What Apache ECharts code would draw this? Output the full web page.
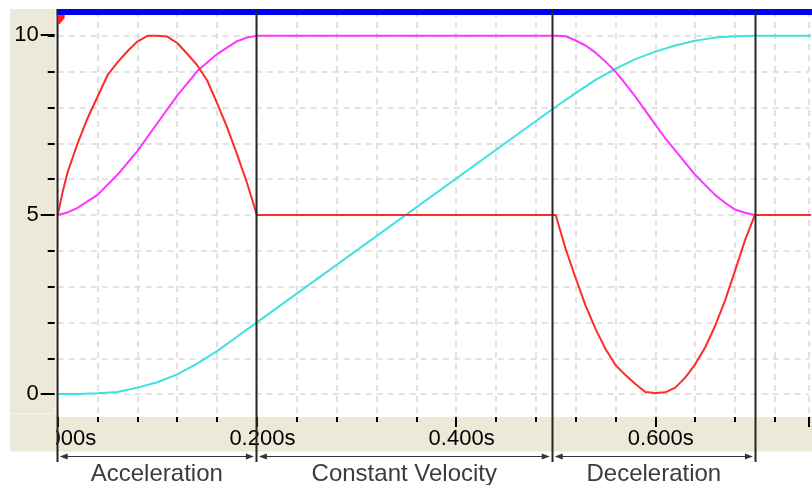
<!DOCTYPE html>
<html><head><meta charset="utf-8">
<script src="https://cdn.jsdelivr.net/npm/echarts@6/dist/echarts.min.js"></script>
<style>html,body{margin:0;padding:0;background:#fff}#c{width:812px;height:485px}</style>
</head><body><div id="c"></div>
<script>
// ---- data (seconds, units) ----
const accelT = [0, 0.005, 0.01, 0.02, 0.03, 0.04, 0.05, 0.06, 0.07, 0.08, 0.09, 0.10, 0.11, 0.12, 0.13, 0.14, 0.15, 0.16, 0.17, 0.18, 0.19, 0.20,
  0.50, 0.51, 0.52, 0.53, 0.54, 0.55, 0.56, 0.57, 0.58, 0.59, 0.60, 0.61, 0.62, 0.63, 0.64, 0.65, 0.66, 0.67, 0.68, 0.69, 0.70, 0.76];
const accelV = [5.0, 5.65, 6.2, 7.0, 7.7, 8.3, 8.9, 9.26, 9.57, 9.84, 10.0, 10.0, 9.98, 9.8, 9.5, 9.18, 8.76, 8.12, 7.45, 6.7, 5.9, 5.0,
  5.0, 4.05, 3.24, 2.47, 1.82, 1.26, 0.81, 0.53, 0.28, 0.06, 0.03, 0.05, 0.18, 0.46, 0.83, 1.3, 1.9, 2.61, 3.44, 4.29, 5.0, 5.0];

const velT = [0, 0.01, 0.02, 0.04, 0.06, 0.08, 0.10, 0.12, 0.14, 0.16, 0.18, 0.19, 0.20,
  0.50, 0.51, 0.52, 0.53, 0.54, 0.55, 0.56, 0.57, 0.58, 0.59, 0.60, 0.61, 0.62, 0.63, 0.64, 0.65, 0.66, 0.67, 0.68, 0.69, 0.70, 0.76];
const velV = [5.0, 5.07, 5.2, 5.56, 6.12, 6.78, 7.56, 8.33, 9.01, 9.49, 9.85, 9.95, 10.0,
  10.0, 9.99, 9.87, 9.73, 9.53, 9.28, 9.0, 8.66, 8.3, 7.91, 7.52, 7.14, 6.8, 6.46, 6.12, 5.84, 5.56, 5.34, 5.15, 5.06, 5.0, 5.0];

const posT = [0, 0.02, 0.04, 0.06, 0.08, 0.10, 0.12, 0.14, 0.16, 0.18, 0.20,
  0.50, 0.52, 0.54, 0.56, 0.58, 0.60, 0.62, 0.64, 0.66, 0.68, 0.70, 0.76];
const posV = [0, 0.0, 0.02, 0.06, 0.18, 0.33, 0.55, 0.85, 1.2, 1.6, 2.0,
  8.02, 8.40, 8.77, 9.08, 9.35, 9.56, 9.73, 9.86, 9.95, 9.99, 10.0, 10.0];

const phaseBounds = [0, 0.2, 0.497, 0.701];
const phaseNames = ['Acceleration', 'Constant Velocity', 'Deceleration'];
const yLabelMin = 0, yLabelMax = 10, yLabelStep = 5;
const xLabelStep = 0.2;

// ---- styling ----
const X_MIN = 0, X_MAX = 0.7543, Y_MIN = -1, Y_MAX = 11;
const FONT = "'Liberation Sans', Arial, sans-serif";
const BEIGE = '#ECE9D8';
const GRIDLINE = {color: '#d9d9d9', type: [6, 5], width: 1.5};

const chart = echarts.init(document.getElementById('c'), null, {renderer: 'canvas'});
const zip = (t, v) => t.map((x, i) => [x, v[i]]);
const isMult = (v, s) => Math.abs(v / s - Math.round(v / s)) < 1e-6;

const hidden = {axisLine: {show: false, onZero: false}, axisTick: {show: false}, axisLabel: {show: false}, splitLine: {show: false}};
const xBase = Object.assign({type: 'value', min: X_MIN, max: X_MAX, position: 'bottom'}, hidden);
const yBase = Object.assign({type: 'value', min: Y_MIN, max: Y_MAX, interval: 1, position: 'left'}, hidden);

// grid 1: the plot (1 unit = 35.9px, 0 at y=394); grid 2: same mapping over 0..10 for labelled ticks
const option = {
  animation: false,
  grid: [
    {left: 57.7, right: 0, top: -0.9, bottom: 55.1, containLabel: false},
    {left: 57.7, right: 0, top: 35, bottom: 91, containLabel: false}
  ],
  xAxis: [
    Object.assign({}, xBase, {gridIndex: 0, interval: 0.04, z: 0, splitLine: {show: true, lineStyle: GRIDLINE}}),
    Object.assign({}, xBase, {gridIndex: 0, interval: 0.04, z: 10, offset: -12.9,
      axisTick: {show: true, length: 5, lineStyle: {color: '#000', width: 2}},
      axisLabel: {show: true, margin: 21.5, verticalAlign: 'middle', fontFamily: FONT, fontSize: 22, color: '#000',
        padding: [0, 0, 0, 11],
        formatter: v => isMult(v, xLabelStep) ? v.toFixed(3) + 's' : ''}}),
    Object.assign({}, xBase, {gridIndex: 0, interval: 0.2, z: 10, offset: -12.9,
      axisTick: {show: true, length: 10, lineStyle: {color: '#000', width: 2}}}),
    Object.assign({}, xBase, {gridIndex: 1, interval: 0.2})
  ],
  yAxis: [
    Object.assign({}, yBase, {gridIndex: 0, z: 0, splitLine: {show: true, lineStyle: GRIDLINE}}),
    Object.assign({}, yBase, {gridIndex: 0, z: 10, offset: 3,
      axisTick: {show: true, length: 7, lineStyle: {color: '#000', width: 2}}}),
    Object.assign({}, yBase, {gridIndex: 1, min: yLabelMin, max: yLabelMax, interval: yLabelStep, z: 10, offset: 3,
      axisTick: {show: true, length: 14, lineStyle: {color: '#000', width: 2}},
      axisLabel: {show: true, margin: 16, fontFamily: FONT, fontSize: 22, color: '#000'}})
  ],
  series: [
    {type: 'line', name: 'Position', data: zip(posT, posV), symbol: 'none', z: 3,
      lineStyle: {color: '#40e0e0', width: 2}, xAxisIndex: 0, yAxisIndex: 0},
    {type: 'line', name: 'Velocity', data: zip(velT, velV), symbol: 'none', z: 3,
      lineStyle: {color: '#ff33ff', width: 2}, xAxisIndex: 0, yAxisIndex: 0},
    {type: 'line', name: 'Acceleration', data: zip(accelT, accelV), symbol: 'none', z: 4,
      lineStyle: {color: '#ff2a2a', width: 2}, xAxisIndex: 0, yAxisIndex: 0}
  ]
};
chart.setOption(option);

// ---- frame decorations and phase annotations ----
const px = t => chart.convertToPixel({xAxisIndex: 0}, t);
const x0 = px(0);
const els = [
  {type: 'rect', shape: {x: 0, y: 0, width: 812, height: 9}, style: {fill: '#fff'}, z: 20},
  {type: 'rect', shape: {x: 10, y: 9, width: 45.5, height: 443}, style: {fill: BEIGE}, z: 5},
  {type: 'rect', shape: {x: 55, y: 417, width: 757, height: 35}, style: {fill: BEIGE}, z: 5},
  {type: 'rect', shape: {x: 10, y: 413, width: 46, height: 39}, style: {fill: BEIGE}, z: 15},
  {type: 'rect', shape: {x: 10, y: 413, width: 45, height: 1}, style: {fill: '#f7f6ee'}, z: 16},
  {type: 'rect', shape: {x: 10, y: 451, width: 802, height: 1}, style: {fill: '#f4f3ea'}, z: 16},
  {type: 'rect', shape: {x: x0 - 1, y: 9, width: 812 - x0 + 1, height: 6}, style: {fill: '#0000ff'}, z: 20},
  {type: 'polygon', shape: {points: [[x0, 15], [x0 + 7, 15], [x0 + 7, 18], [x0 + 2, 24], [x0, 24]]}, style: {fill: '#ff2020'}, z: 22}
];
phaseBounds.forEach(t => {
  const x = Math.round(px(t)) - 0.5;
  els.push({type: 'line', shape: {x1: x, y1: 9, x2: x, y2: 462}, style: {stroke: '#262626', lineWidth: 2}, z: 21});
});
const AY = 456.5;
phaseNames.forEach((name, i) => {
  const a = px(phaseBounds[i]) + 2, b = px(phaseBounds[i + 1]) - 3;
  els.push({type: 'line', shape: {x1: a + 4, y1: AY, x2: b - 4, y2: AY}, style: {stroke: '#333', lineWidth: 1}, z: 21});
  els.push({type: 'polygon', shape: {points: [[a, AY], [a + 8, AY - 3], [a + 8, AY + 3]]}, style: {fill: '#333'}, z: 21});
  els.push({type: 'polygon', shape: {points: [[b, AY], [b - 8, AY - 3], [b - 8, AY + 3]]}, style: {fill: '#333'}, z: 21});
  els.push({type: 'text', x: (a + b) / 2, y: 474, z: 21,
    style: {text: name, fill: '#3c3c3c', font: "24px 'Liberation Sans', Arial, sans-serif", align: 'center', verticalAlign: 'middle'}});
});
chart.setOption({graphic: {elements: els}});
</script>
</body></html>
